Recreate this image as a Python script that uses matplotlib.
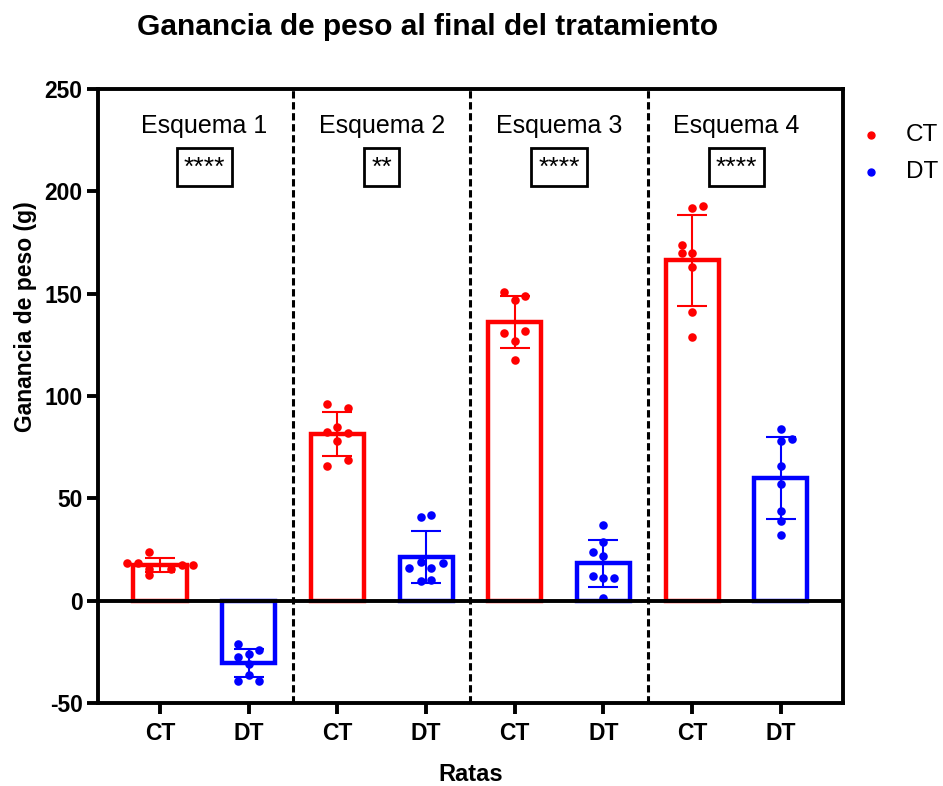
import numpy as np
import matplotlib
matplotlib.use("Agg")
import matplotlib.pyplot as plt

plt.rcParams['font.family'] = ['Liberation Sans', 'DejaVu Sans']
plt.rcParams['axes.unicode_minus'] = False

labels = ['CT', 'DT', 'CT', 'DT', 'CT', 'DT', 'CT', 'DT']
groups = ['CT', 'DT']
schemes = ['Esquema 1', 'Esquema 2', 'Esquema 3', 'Esquema 4']
signif = ['****', '**', '****', '****']

# individual rats
pts = [
    [18.4, 18.4, 23.9, 15.5, 15.5, 17.3, 17.3, 12.4],
    [-21.0, -23.9, -27.5, -25.9, -30.8, -36.3, -39.1, -39.1],
    [95.9, 93.9, 84.8, 82.4, 82.0, 77.8, 68.8, 65.9],
    [40.7, 42.0, 16.0, 18.9, 16.0, 18.4, 9.4, 10.3],
    [150.7, 148.8, 146.8, 130.9, 131.7, 126.8, 117.8],
    [36.8, 28.8, 23.9, 21.8, 12.1, 11.1, 11.1, 1.3],
    [191.7, 192.9, 173.8, 169.8, 169.8, 162.8, 140.8, 128.9],
    [84.0, 77.8, 79.0, 65.9, 57.0, 43.9, 38.9, 32.1],
]
# horizontal jitter offsets (in bar units) as seen in the picture
offs = [
    [-0.37, -0.25, -0.12, -0.12, 0.12, 0.25, 0.37, -0.12],
    [-0.12, 0.12, -0.12, 0.0, 0.0, 0.0, -0.12, 0.12],
    [-0.12, 0.12, 0.0, -0.12, 0.12, 0.0, 0.12, -0.12],
    [-0.06, 0.06, -0.19, -0.06, 0.06, 0.19, -0.06, 0.06],
    [-0.12, 0.12, 0.0, -0.12, 0.12, 0.0, 0.0],
    [0.0, 0.0, -0.12, 0.0, -0.12, 0.0, 0.12, 0.0],
    [0.0, 0.12, -0.12, -0.12, 0.0, 0.0, 0.0, 0.0],
    [0.0, 0.0, 0.12, 0.0, 0.0, 0.0, 0.0, 0.0],
]
colors = ['#ff0000', '#0000ff'] * 4

fig = plt.figure(figsize=(9.43, 7.86), dpi=100)
ax = fig.add_axes([0.1039, 0.1056, 0.790, 0.7812])

x = np.arange(8)
for i in range(8):
    v = np.array(pts[i])
    m = v.mean()
    sd = v.std(ddof=1)
    c = colors[i]
    ax.bar(x[i], m, width=0.6, facecolor='none', edgecolor=c, linewidth=3.2, zorder=2)
    ax.errorbar(x[i], m, yerr=sd, fmt='none', ecolor=c, elinewidth=1.5,
                capsize=10.5, capthick=1.5, zorder=3)
    ax.scatter(x[i] + np.array(offs[i]), v, s=38, color=c, zorder=4, linewidths=0)

ax.axhline(0, color='black', lw=2.8, zorder=5)
for d in [1.5, 3.5, 5.5]:
    ax.axvline(d, color='black', lw=2.2, ls=(0, (2.4, 1.2)), zorder=1)

for k in range(4):
    cx = 2 * k + 0.5
    ax.text(cx, 232, schemes[k], ha='center', va='center', fontsize=18)
    ax.text(cx, 211.7, signif[k], ha='center', va='center', fontsize=19,
            bbox=dict(boxstyle='square,pad=0.27', facecolor='white',
                      edgecolor='black', lw=2))

ax.set_xlim(-0.7, 7.7)
ax.set_ylim(-50, 250)
ax.set_yticks(np.arange(-50, 251, 50))
ax.set_xticks(x)
ax.set_xticklabels(labels, fontsize=16.5, fontweight='bold')
for t in ax.get_yticklabels():
    t.set_fontsize(16.5)
    t.set_fontweight('bold')
ax.tick_params(axis='both', width=2.8, length=8, direction='out')
ax.tick_params(axis='x', pad=6)
ax.tick_params(axis='y', pad=3)
for s in ax.spines.values():
    s.set_linewidth(2.8)

ax.set_xlabel('Ratas', fontsize=17, fontweight='bold', labelpad=13)
ax.set_ylabel('Ganancia de peso (g)', fontsize=16.5, fontweight='bold')
ax.yaxis.set_label_coords(-0.082, 0.63)

fig.text(428 / 943, 1 - 27 / 786, 'Ganancia de peso al final del tratamiento',
         ha='center', va='center', fontsize=21.5, fontweight='bold')

# legend
for g, c, yy in zip(groups, ['#ff0000', '#0000ff'], [135, 172]):
    fig.text(906 / 943, 1 - yy / 786, g, ha='left', va='center', fontsize=17.5)
    fig.lines.append(plt.Line2D([871 / 943], [1 - yy / 786], marker='o', ms=5,
                                color=c, transform=fig.transFigure, ls='none'))

fig.savefig('out.png', dpi=100)
